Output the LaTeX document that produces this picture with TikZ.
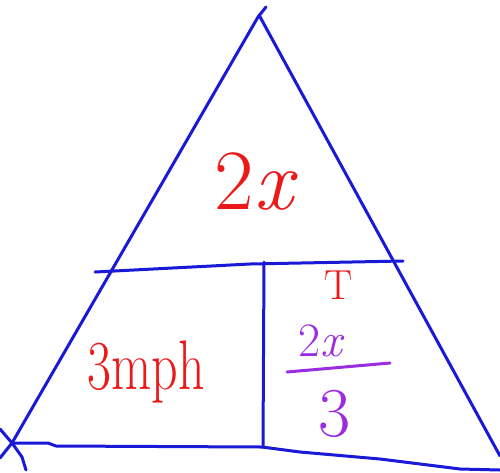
\documentclass[tikz,border=0pt]{standalone}
\definecolor{penblue}{RGB}{25,25,215}
\definecolor{penred}{RGB}{235,25,25}
\definecolor{penpurple}{RGB}{155,45,225}
\tikzset{
  pen/.style={draw=penblue, line width=3pt, line cap=round, line join=round},
  redtxt/.style={text=penred, inner sep=0pt},
  purtxt/.style={text=penpurple, inner sep=0pt}
}
\begin{document}
\begin{tikzpicture}[x=1pt,y=-1pt]
\useasboundingbox[fill=white] (0,0) rectangle (500,472);
% triangle sides
\draw[pen] (266,7) -- (258,17) -- (12,443);
\draw[pen] (259,15) -- (500,456);
% bottom line
\draw[pen] (12,443) -- (48,443) -- (56,446) -- (262,447) -- (300,452) -- (380,459) -- (460,469) -- (500,470);
% bottom-left scribble
\draw[pen] (0,429) -- (12,443) -- (22,457) -- (26,470);
\draw[pen] (0,458) -- (12,443);
% middle horizontal line
\draw[pen] (95,272) -- (250,264) -- (403,261);
% vertical divider
\draw[pen] (264,262) -- (263,447);
% labels
\node[redtxt] (top) at (256,182) {\fontsize{86}{90}\selectfont 2\textit{x}};
\node[redtxt, yscale=1.35] (speed) at (146,372) {\fontsize{52}{56}\selectfont 3mph};
\node[redtxt] (t) at (339,285) {\fontsize{42}{44}\selectfont T};
\node[purtxt] (num) at (322,341) {\fontsize{48}{50}\selectfont 2\textit{x}};
\node[purtxt] (den) at (335,414) {\fontsize{70}{72}\selectfont 3};
\draw[draw=penpurple, line width=3pt, line cap=round] (287,372) -- (390,363);
\end{tikzpicture}
\end{document}
